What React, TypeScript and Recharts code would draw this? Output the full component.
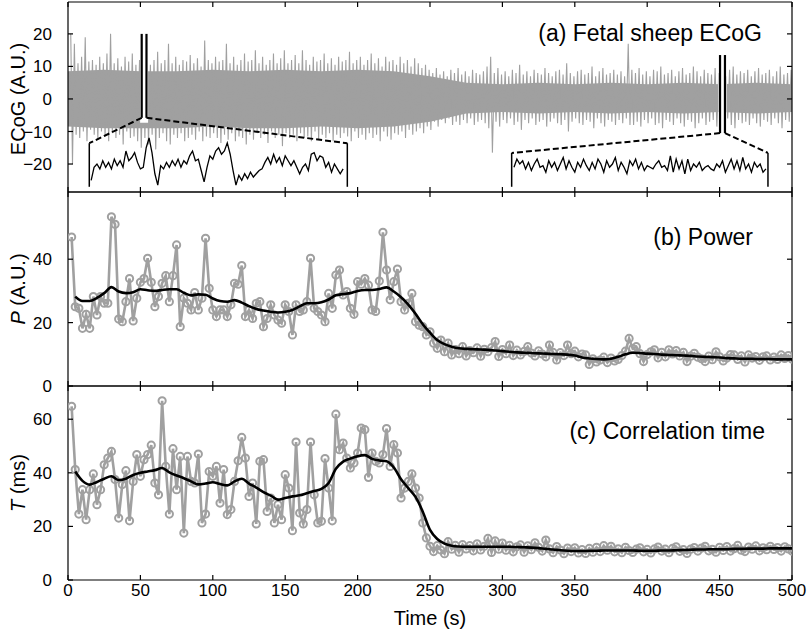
import React from "react";
import { ComposedChart, Line, Area, XAxis, YAxis, ReferenceLine, ReferenceArea } from "recharts";

const FONT = "'Liberation Sans', Arial, Helvetica, sans-serif";
const GREY = "#a0a0a0";

const timeTicks = [0, 50, 100, 150, 200, 250, 300, 350, 400, 450, 500];
const ecogTicks = [-20, -10, 0, 10, 20];
const powerTicks = [0, 20, 40];
const corrTicks = [0, 20, 40, 60];

// analysis windows, one every 2.5 s (t = 2.5 ... 500)
const windowStep = 2.5;

// (b) power per window
const powerValues = [
  47, 25, 24.5, 18.2, 22.6, 18.2, 28.2, 22.4, 28.2, 26.1,
  26.1, 53.4, 51, 21.1, 20.3, 26.6, 33.9, 20.5, 27.7, 32.7,
  33.9, 40.3, 32.7, 25, 28.2, 32.4, 34.8, 26.6, 34.8, 44.5,
  18.7, 27.7, 26.1, 24, 29.5, 24, 27.7, 46.6, 30.8, 24,
  21.9, 24, 24, 21.9, 25.6, 32.4, 32.1, 38, 21.9, 24,
  21.3, 26.1, 26.6, 18.7, 21.3, 25.6, 22.4, 20.8, 19.8, 25.6,
  23.5, 16.1, 25.6, 23.5, 24, 26.6, 40.3, 24.5, 23.5, 22.4,
  20.3, 29.2, 24.5, 35, 36.6, 28.7, 29.8, 24.5, 22.6, 32.9,
  32.1, 33.9, 31.8, 24, 23.5, 33.1, 48.5, 36.6, 27.2, 32.9,
  36.9, 26.6, 24, 26.1, 29.2, 20.3, 19.2, 18.7, 16.1, 17.1,
  13.5, 11.9, 14.5, 10.8, 13.5, 9.8, 11.5, 10.2, 12.4, 9.5,
  11.2, 10.5, 12, 9.4, 11.6, 10.8, 12.1, 14, 9.3, 11.5,
  10.2, 12.9, 9.6, 11.3, 9.8, 10.9, 12.4, 10.4, 9.5, 11.1,
  10.1, 9.2, 12.9, 10.6, 8.2, 10.5, 9.6, 12.9, 10.2, 11,
  9.2, 10.1, 9.8, 6.8, 8.6, 7.6, 8.2, 9.1, 7.4, 8.8,
  7.9, 8.4, 9.6, 11, 15, 11.8, 12.4, 10.2, 7.7, 9.9,
  10.8, 11.4, 8.9, 10.6, 9.2, 11.4, 10.1, 11.2, 9.5, 10.6,
  7.7, 9.4, 10.3, 9.1, 8.6, 7.7, 9.4, 8.3, 10.8, 9.2,
  7.9, 8.8, 9.9, 9.8, 8.4, 9.5, 7.6, 9.8, 8.8, 9.3,
  8.1, 9.2, 9.5, 8.2, 9.1, 8.4, 9.8, 8.7, 9.6, 8.5,
];

// (c) correlation time per window, ms
const corrTimeValues = [
  64.8, 41.2, 24.6, 33.7, 22.5, 33.7, 39.6, 28.1, 33.7, 43,
  45.5, 48, 37.5, 23.1, 35.6, 40.8, 22.1, 36.8, 46.8, 38.7,
  44.9, 46.8, 50.3, 36.2, 31.8, 66.9, 42.4, 24.6, 49, 33.7,
  46.1, 17.5, 46.1, 36.8, 36.2, 47, 21.3, 24.6, 40.5, 38.7,
  42.4, 28.7, 41.2, 24.4, 26.3, 36.8, 44.5, 53.2, 45.5, 31.2,
  36.2, 20.9, 44.3, 44.9, 25.6, 30.6, 21.3, 28.1, 22.5, 39.3,
  34.3, 18.4, 51.5, 25, 20.9, 26.3, 51.5, 31.8, 21.3, 21.9,
  45.3, 34.3, 22.1, 61.9, 48.6, 51.1, 45.5, 41.8, 43.7, 47.4,
  56.7, 56.1, 38.3, 47.4, 44.3, 43.7, 46.8, 56.5, 42.4, 50.5,
  47.4, 30.6, 34.3, 36.8, 39.6, 34.3, 30.6, 21.3, 15.7, 12.6,
  10.6, 12.8, 11.2, 9.8, 14.3, 11.5, 12.9, 10.4, 13.2, 11.6,
  12.8, 10.9, 13.5, 11.2, 12.6, 15.5, 10.3, 14.6, 11.5, 13.8,
  11.1, 12.9, 10.5, 12.4, 13.1, 10.4, 12.7, 11.3, 13.9, 12.2,
  10.8, 14.9, 11.6, 10.2, 12.5, 11.2, 9.8, 11.9, 10.6, 12,
  10.1, 11.3, 9.9, 11.8, 10.4, 12.2, 10.6, 12.8, 11.1, 12.6,
  10.5, 11.6, 10.2, 12.2, 11, 10.3, 11.5, 12, 10.5, 11.4,
  10.1, 11.6, 12.3, 10.8, 11.5, 10.2, 11.8, 12.4, 10.7, 11.3,
  9.9, 11.5, 12.1, 10.8, 11.9, 12.6, 10.9, 11.4, 10.4, 12.2,
  11, 12.5, 10.8, 11.7, 12.9, 11.1, 10.6, 12.3, 11.5, 12.7,
  10.9, 12, 11.3, 12.6, 11.4, 12.1, 10.8, 12.4, 11.6, 10.8,
];

// (a) ECoG peaks per window: largest upward and downward excursion
const ecogHigh = [
  20, 17, 11, 13, 19, 11.5, 12, 10.5, 13, 11,
  14, 20, 11, 12.5, 10, 13, 11.5, 14, 10.5, 12,
  11, 13, 10.5, 12, 14.5, 11, 12, 17, 11, 13,
  10.5, 12, 11.5, 13.5, 11, 12.5, 10, 18, 12, 11,
  13, 11.5, 12, 17, 11, 13, 10.5, 12, 14, 11.5,
  12, 15, 11, 13, 10.5, 12, 14, 11, 12.5, 15,
  11, 12, 13.5, 11, 15, 12, 10.5, 13, 11.5, 12,
  14, 11, 12.5, 10.5, 13, 11.5, 12, 14.5, 11, 12,
  13, 10.5, 12, 14, 11, 12.5, 10, 13, 11.5, 12,
  10.5, 13, 11, 12, 10, 12.5, 11, 9.5, 10.5, 9,
  8, 9.5, 7.5, 8.5, 7, 9, 8, 9.5, 7.5, 8.5,
  7, 9, 8, 7.5, 8.5, 10, 13, 8, 9.5, 7.5,
  8.5, 7, 9, 8, 10.5, 7.5, 8.5, 7, 9, 8,
  7.5, 9.5, 8, 7, 8.5, 9, 7.5, 11, 8, 7,
  8.5, 9, 7.5, 8, 10, 7, 8.5, 9.5, 7.5, 8,
  9, 7.5, 8.5, 7, 17, 9, 8, 9.5, 7.5, 8.5,
  7, 9, 8.5, 10, 7.5, 8, 9, 7, 8.5, 9.5,
  7.5, 8, 10, 8.5, 7, 9, 8, 7.5, 9.5, 8,
  8.5, 7, 9, 10, 7.5, 8.5, 8, 9, 7, 8.5,
  9.5, 7.5, 8, 9, 7, 8.5, 10, 7.5, 8, 9,
];
const ecogLow = [
  -20, -11, -12, -10, -13, -9.5, -11, -12.5, -10, -11.5,
  -13, -10.5, -12, -11, -14, -10, -12, -11.5, -13, -15,
  -12, -14, -11, -15.5, -12, -10.5, -13, -14, -11, -12,
  -10.5, -13, -12, -11, -12.5, -10, -13, -11.5, -12, -10.5,
  -12, -13.5, -11, -12.5, -10.5, -13, -11.5, -12, -14, -11,
  -12.5, -10.5, -12, -11, -13.5, -10, -12, -11, -14.5, -10.5,
  -12, -11, -13, -10.5, -12, -11.5, -13, -10, -12.5, -11,
  -12, -10.5, -13, -11, -12, -10.5, -11.5, -13, -10, -12,
  -11, -12.5, -10.5, -12, -11, -13, -10, -11.5, -12.5, -10.5,
  -11, -10, -12, -9.5, -11, -10, -9, -10.5, -8.5, -9.5,
  -7, -8.5, -6.5, -7.5, -6, -8, -7, -8, -6.5, -7.5,
  -6, -8, -7, -6.5, -7.5, -9, -16.5, -7, -8.5, -6.5,
  -7.5, -6, -8, -7, -9.5, -6.5, -7.5, -6, -8, -7,
  -6.5, -8.5, -7, -6, -7.5, -8, -6.5, -10, -7, -6,
  -7.5, -8, -6.5, -7, -9, -6, -7.5, -8.5, -6.5, -7,
  -8, -6.5, -7.5, -6, -8, -8, -7, -8.5, -6.5, -7.5,
  -6, -8, -7.5, -9, -6.5, -7, -8, -6, -7.5, -8.5,
  -6.5, -7, -9, -7.5, -6, -8, -7, -6.5, -8.5, -7,
  -7.5, -6, -8, -9, -6.5, -7.5, -7, -8, -6, -7.5,
  -8.5, -6.5, -7, -8, -6, -7.5, -9, -6.5, -7, -8,
];

// (a) dense core of the ECoG trace, every 25 s (t = 0 ... 500)
const coreStep = 25;
const ecogCoreHigh = [8.5, 9, 8.5, 8.5, 9, 8.5, 9, 8.5, 9, 8.5, 7, 5, 4.5, 5, 4.5, 5, 4.5, 5, 4.5, 5, 4.5];
const ecogCoreLow = [-8.5, -9, -9, -9, -8.5, -9, -9, -8.5, -9, -8.5, -7, -4.5, -4, -4.5, -4, -4.5, -4, -4.5, -4, -4.5, -4];

// smoothed trends, one value every 5 s (t = 5 ... 500)
const smoothStep = 5;
const powerSmooth = [
  28.2, 26.8, 26.8, 27.8, 29.3, 31.2, 29.8, 29.3, 29.6, 30.5,
  30.2, 30, 30.3, 30.5, 30.5, 29.4, 28.6, 28.9, 28.8, 27.6,
  26.8, 26.6, 27.1, 26.3, 25.2, 24.3, 23.8, 23.4, 23.2, 23.4,
  24, 25.1, 26.1, 26.1, 26.4, 27.3, 28.6, 29, 29.3, 30,
  30.3, 30.3, 30.6, 31.1, 29.8, 28, 25.7, 22.8, 19.5, 16.8,
  14.5, 13.2, 12.4, 11.9, 11.7, 11.6, 11.5, 11.4, 11.2, 11,
  10.8, 10.6, 10.5, 10.4, 10.3, 10.2, 10.1, 10, 9.9, 9.6,
  9, 8.7, 8.5, 8.4, 8.6, 9.2, 10, 10.5, 10.4, 10.2,
  10.1, 9.9, 9.8, 9.7, 9.6, 9.5, 9.3, 9.2, 9.1, 9,
  8.8, 8.7, 8.6, 8.6, 8.5, 8.5, 8.5, 8.4, 8.4, 8.4,
];
const corrTimeSmooth = [
  40.5, 37, 35.6, 36.6, 37.8, 38.7, 37.3, 37.8, 39.2, 40,
  40.5, 41, 41.8, 40.2, 39, 38, 36.8, 35.7, 36, 36.5,
  35.8, 35.3, 36.8, 37.8, 36, 34.5, 32.8, 31.5, 30, 30.6,
  31.2, 31.6, 32.4, 33.2, 34, 36.2, 41.5, 44.2, 45.3, 46.2,
  46.6, 45.2, 44.6, 44.3, 42, 37.6, 34.3, 31, 25.5, 18.7,
  15.3, 13.6, 12.8, 12.5, 12.4, 12.4, 12.4, 12.4, 12.4, 12.4,
  12.4, 12.3, 12.2, 12.1, 11.9, 11.6, 11.4, 11.1, 10.9, 10.8,
  10.8, 10.9, 10.9, 11, 11, 11, 11, 11, 10.9, 10.9,
  10.9, 11, 11, 11.1, 11.2, 11.3, 11.4, 11.4, 11.5, 11.5,
  11.5, 11.6, 11.6, 11.7, 11.7, 11.7, 11.8, 11.8, 11.8, 11.8,
];

// zoomed ECoG excerpts drawn under the trace, sampled every 2 s of display time
const insetStep = 2;
const inset1Start = 16;
const inset1Trace = [
  -25, -21, -20, -21.5, -19, -21, -19.5, -21.5, -18.5, -20.5,
  -19, -21, -16, -19, -18, -16.5, -19.5, -21.5, -21, -15,
  -12, -16.5, -23, -26.5, -20.5, -21.5, -19.5, -21, -19, -20.5,
  -18.5, -21, -19, -20, -17.5, -16, -19, -18.5, -22, -25.5,
  -21, -17.5, -18.5, -16, -15, -17, -16, -13.5, -17, -22,
  -26.5, -23.5, -25, -23, -24.5, -22.5, -24, -23, -22, -21.5,
  -19.5, -18, -20, -17, -19.5, -18, -20.5, -17.5, -19, -20.5,
  -19, -21, -23, -21, -20, -22, -17, -16.5, -19, -17.5,
  -18, -21, -19.5, -22.5, -20, -21.5, -23, -21.5,
];
const inset2Start = 308;
const inset2Trace = [
  -21, -18.5, -20, -19, -21.5, -19.5, -22, -20, -18.5, -21,
  -20.5, -22.5, -19, -21, -19.5, -22, -20, -18, -21.5, -19,
  -21, -22.5, -19.5, -21, -18.5, -20.5, -22, -19.5, -21.5, -18.5,
  -20, -22.5, -19, -21, -20, -18, -22, -19.5, -21, -23,
  -19, -20.5, -18.5, -21.5, -19.5, -22, -20.5, -21, -21.5, -20,
  -19, -21, -20.5, -22, -17.5, -22.5, -18.5, -21.5, -19, -23,
  -18.5, -22, -20, -21, -19.5, -22, -21, -20.5, -21.5, -22,
  -20, -21, -19, -22.5, -20.5, -18.5, -21.5, -19, -22, -18,
  -21.5, -20, -22.5, -19.5, -21, -20, -22.5, -21.5,
];

// excerpt markers (data units of panel a)
const zoomMarks = [
  { left: 50.9, right: 54.2, top: 20, bottom: -5.8, boxLeft: 14.7, boxRight: 192.9, boxTop: -13.6, boxBottom: -27 },
  { left: 450.3, right: 453.7, top: 13.5, bottom: -10.5, boxLeft: 306.4, boxRight: 483.4, boxTop: -16.6, boxBottom: -27 },
];

const windowRows = powerValues.map((p, i) => ({ t: (i + 1) * windowStep, p, T: corrTimeValues[i] }));
// each window's peak and trough, placed one after the other to draw the raw trace
const ecogRows = ecogHigh.flatMap((hi, i) => [
  { t: (i + 1) * windowStep - 0.6, v: hi },
  { t: (i + 1) * windowStep + 0.6, v: ecogLow[i] },
]);
const coreRows = ecogCoreHigh.map((hi, i) => ({ t: i * coreStep, core: [ecogCoreLow[i], hi] }));
const smoothRows = powerSmooth.map((p, i) => ({ t: (i + 1) * smoothStep, p, T: corrTimeSmooth[i] }));
const inset1Rows = inset1Trace.map((v, i) => ({ t: inset1Start + i * insetStep, v }));
const inset2Rows = inset2Trace.map((v, i) => ({ t: inset2Start + i * insetStep, v }));

const minus = (v: number) => (v < 0 ? `\u2212${Math.abs(v)}` : `${v}`);
const blank = () => "";
const axisStroke = { stroke: "#000", strokeWidth: 1.2 };
const tickFont = { fontSize: 17, fill: "#000" };

function frameAxes(yDomain: [number, number], yTicks: number[], showTime: boolean) {
  return [
    <XAxis
      key="xb"
      xAxisId="b"
      dataKey="t"
      type="number"
      domain={[0, 500]}
      ticks={timeTicks}
      allowDataOverflow
      interval={0}
      height={showTime ? 55 : 1}
      tickSize={-5}
      tickMargin={9}
      axisLine={axisStroke}
      tickLine={axisStroke}
      tick={tickFont}
      tickFormatter={showTime ? undefined : blank}
      label={showTime ? { value: "Time (s)", position: "insideBottom", offset: 10, fontSize: 20, fill: "#000" } : undefined}
    />,
    <XAxis
      key="xt"
      xAxisId="t"
      orientation="top"
      dataKey="t"
      type="number"
      domain={[0, 500]}
      ticks={timeTicks}
      allowDataOverflow
      interval={0}
      height={1}
      tickSize={-5}
      axisLine={axisStroke}
      tickLine={axisStroke}
      tickFormatter={blank}
    />,
    <YAxis
      key="yl"
      yAxisId="l"
      type="number"
      domain={yDomain}
      ticks={yTicks}
      allowDataOverflow
      interval={0}
      width={68}
      tickSize={-5}
      tickMargin={21}
      axisLine={axisStroke}
      tickLine={axisStroke}
      tick={tickFont}
      tickFormatter={minus}
    />,
    <YAxis
      key="yr"
      yAxisId="r"
      orientation="right"
      type="number"
      domain={yDomain}
      ticks={yTicks}
      allowDataOverflow
      interval={0}
      width={1}
      tickSize={-5}
      axisLine={axisStroke}
      tickLine={axisStroke}
      tickFormatter={blank}
    />,
  ];
}

function zoomMarkElements(m: (typeof zoomMarks)[number], k: string) {
  const ids = { xAxisId: "b", yAxisId: "l" };
  return [
    <ReferenceArea key={k + "gap"} {...ids} x1={m.left - 1.1} x2={m.right + 1.1} y1={m.bottom - 1.5} y2={m.top + 1} fill="#fff" fillOpacity={1} stroke="none" zIndex={450} />,
    <ReferenceLine key={k + "l"} {...ids} segment={[{ x: m.left, y: m.top }, { x: m.left, y: m.bottom }]} stroke="#000" strokeWidth={2.2} zIndex={500} />,
    <ReferenceLine key={k + "r"} {...ids} segment={[{ x: m.right, y: m.top }, { x: m.right, y: m.bottom }]} stroke="#000" strokeWidth={2.2} zIndex={500} />,
    <ReferenceLine key={k + "dl"} {...ids} segment={[{ x: m.left, y: m.bottom }, { x: m.boxLeft, y: m.boxTop }]} stroke="#000" strokeWidth={2} strokeDasharray="6 3" zIndex={500} />,
    <ReferenceLine key={k + "dr"} {...ids} segment={[{ x: m.right, y: m.bottom }, { x: m.boxRight, y: m.boxTop }]} stroke="#000" strokeWidth={2} strokeDasharray="6 3" zIndex={500} />,
    <ReferenceLine key={k + "bl"} {...ids} segment={[{ x: m.boxLeft, y: m.boxTop }, { x: m.boxLeft, y: m.boxBottom }]} stroke="#000" strokeWidth={1.5} zIndex={500} />,
    <ReferenceLine key={k + "br"} {...ids} segment={[{ x: m.boxRight, y: m.boxTop }, { x: m.boxRight, y: m.boxBottom }]} stroke="#000" strokeWidth={1.5} zIndex={500} />,
  ];
}

const titleStyle: React.CSSProperties = { position: "absolute", fontSize: 23, lineHeight: 1, whiteSpace: "nowrap" };
const yTitleStyle: React.CSSProperties = {
  position: "absolute",
  left: 18,
  fontSize: 20,
  lineHeight: 1,
  whiteSpace: "nowrap",
  transform: "translate(-50%, -50%) rotate(-90deg)",
};

export default function App() {
  const dot = { r: 3.6, stroke: GREY, strokeWidth: 2, fill: "none" };
  return (
    <div style={{ position: "absolute", left: 0, top: 0, width: 807, height: 635, background: "#fff", fontFamily: FONT, color: "#000" }}>
      <style>{".recharts-surface{overflow:visible}"}</style>
      <div style={{ position: "absolute", left: 0, top: 0 }}>
        <ComposedChart width={807} height={194} data={coreRows} margin={{ top: 1, right: 14, bottom: 1, left: 0 }}>
          {frameAxes([-28.6, 29.8], ecogTicks, false)}
          <Area xAxisId="b" yAxisId="l" type="linear" dataKey="core" stroke="none" fill={GREY} fillOpacity={1} dot={false} activeDot={false} isAnimationActive={false} />
          <Line xAxisId="b" yAxisId="l" data={ecogRows} dataKey="v" type="linear" stroke={GREY} strokeWidth={1.1} dot={false} activeDot={false} isAnimationActive={false} />
          {zoomMarks.map((m, i) => zoomMarkElements(m, "z" + i))}
          <Line xAxisId="b" yAxisId="l" data={inset1Rows} dataKey="v" type="linear" stroke="#000" strokeWidth={1.3} dot={false} activeDot={false} isAnimationActive={false} zIndex={500} />
          <Line xAxisId="b" yAxisId="l" data={inset2Rows} dataKey="v" type="linear" stroke="#000" strokeWidth={1.3} dot={false} activeDot={false} isAnimationActive={false} zIndex={500} />
        </ComposedChart>
      </div>
      <div style={{ position: "absolute", left: 0, top: 190 }}>
        <ComposedChart width={807} height={198} data={windowRows} margin={{ top: 1, right: 14, bottom: 1, left: 0 }}>
          {frameAxes([0, 61.2], powerTicks, false)}
          <Line xAxisId="b" yAxisId="l" dataKey="p" type="linear" stroke={GREY} strokeWidth={2.6} dot={dot} activeDot={false} isAnimationActive={false} />
          <Line xAxisId="b" yAxisId="l" data={smoothRows} dataKey="p" type="monotone" stroke="#000" strokeWidth={2.6} dot={false} activeDot={false} isAnimationActive={false} zIndex={900} />
        </ComposedChart>
      </div>
      <div style={{ position: "absolute", left: 0, top: 384 }}>
        <ComposedChart width={807} height={251} data={windowRows} margin={{ top: 1, right: 14, bottom: 0, left: 0 }}>
          {frameAxes([0, 72.4], corrTicks, true)}
          <Line xAxisId="b" yAxisId="l" dataKey="T" type="linear" stroke={GREY} strokeWidth={2.6} dot={dot} activeDot={false} isAnimationActive={false} />
          <Line xAxisId="b" yAxisId="l" data={smoothRows} dataKey="T" type="monotone" stroke="#000" strokeWidth={2.6} dot={false} activeDot={false} isAnimationActive={false} zIndex={900} />
        </ComposedChart>
      </div>

      <div style={{ ...titleStyle, right: 45, top: 21.5 }}>(a) Fetal sheep ECoG</div>
      <div style={{ ...titleStyle, right: 54, top: 225.5 }}>(b) Power</div>
      <div style={{ ...titleStyle, right: 42, top: 420 }}>(c) Correlation time</div>

      <div style={{ ...yTitleStyle, top: 99 }}>ECoG (A.U.)</div>
      <div style={{ ...yTitleStyle, top: 289 }}>
        <i>P</i> (A.U.)
      </div>
      <div style={{ ...yTitleStyle, top: 483 }}>
        <i>T</i> (ms)
      </div>
    </div>
  );
}
